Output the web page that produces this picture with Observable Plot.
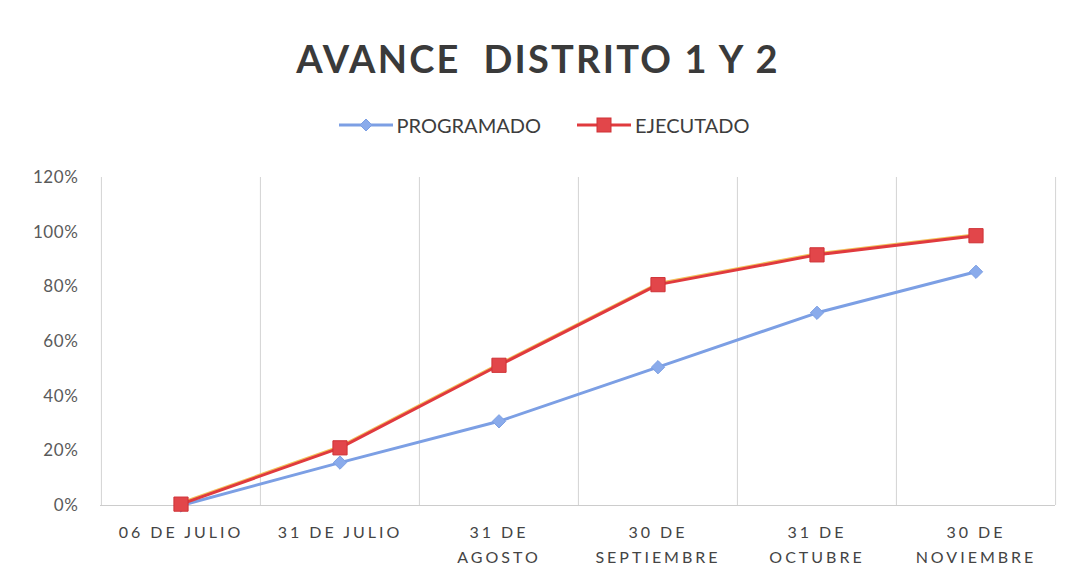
<!DOCTYPE html>
<html>
<head>
<meta charset="utf-8">
<script src="https://cdn.jsdelivr.net/npm/d3@7"></script>
<script src="https://cdn.jsdelivr.net/npm/@observablehq/plot@0.6"></script>
<style>
  html, body { margin: 0; padding: 0; background: #fff; }
  #wrap { position: relative; width: 1076px; height: 579px; overflow: hidden; background: #fff; font-family: Lato, "Open Sans", sans-serif; }
  #title { position: absolute; left: 0; width: 1076px; top: 37px; text-align: center; font-size: 38px; font-weight: 700; letter-spacing: 2.2px; color: #3a3a3a; white-space: pre; line-height: 42px; }
  #legend { position: absolute; left: 6px; width: 1076px; top: 112px; display: flex; justify-content: center; align-items: center; font-size: 20px; color: #3d3d3d; line-height: 26px; }
  .item { display: flex; align-items: center; }
  .item svg { margin-right: 4px; }
  #chart { position: absolute; left: 0; top: 150px; }
  #chart svg g[aria-label="x-axis tick label"] text { letter-spacing: 3px; }
  #chart svg g[aria-label="y-axis tick label"] text { letter-spacing: 0.6px; }
</style>
</head>
<body>
<div id="wrap">
  <div id="title">AVANCE  DISTRITO 1 Y 2</div>
  <div id="legend"></div>
  <div id="chart"></div>
</div>
<script>
const categories = ["06 DE JULIO", "31 DE JULIO", "31 DE AGOSTO", "30 DE SEPTIEMBRE", "31 DE OCTUBRE", "30 DE NOVIEMBRE"];
const tickLabels = ["06 DE JULIO", "31 DE JULIO", "31 DE\nAGOSTO", "30 DE\nSEPTIEMBRE", "31 DE\nOCTUBRE", "30 DE\nNOVIEMBRE"];
const programado = [0, 0.157, 0.308, 0.506, 0.705, 0.855];
const ejecutado = [0.005, 0.211, 0.513, 0.808, 0.917, 0.987];
const yTicks = [0, 0.2, 0.4, 0.6, 0.8, 1.0, 1.2];
const seriesNames = ["PROGRAMADO", "EJECUTADO"];

const blue = "#7c9fe4";
const red = "#e03a3e";

const rows = [];
categories.forEach((c, i) => {
  rows.push({cat: c, value: programado[i], serie: seriesNames[0]});
  rows.push({cat: c, value: ejecutado[i], serie: seriesNames[1]});
});
const progRows = rows.filter(d => d.serie === seriesNames[0]);
const ejecRows = rows.filter(d => d.serie === seriesNames[1]);

const W = 1076, H = 429;
const mL = 100, mR = 21, mT = 27, mB = 74;
const bw = (W - mL - mR) / categories.length;
const labelOf = new Map(categories.map((c, i) => [c, tickLabels[i]]));

const plot = Plot.plot({
  width: W,
  height: H,
  marginLeft: mL,
  marginRight: mR,
  marginTop: mT,
  marginBottom: mB,
  style: {background: "transparent", fontFamily: "Lato, 'Open Sans', sans-serif", color: "#4a4a4a"},
  x: {type: "band", domain: categories, padding: 0},
  y: {domain: [0, 1.2]},
  marks: [
    Plot.ruleX(categories, {dx: -bw / 2, stroke: "#d4d4d4", strokeWidth: 1}),
    Plot.ruleX([categories[categories.length - 1]], {dx: bw / 2, stroke: "#d4d4d4", strokeWidth: 1}),
    Plot.ruleY([0], {stroke: "#cccccc", strokeWidth: 1}),
    Plot.axisY({ticks: yTicks, tickFormat: d3.format(".0%"), tickSize: 0, tickPadding: 22, fontSize: 17, label: null, fill: "#5a5a5a"}),
    Plot.axisX({tickSize: 0, tickPadding: 15, fontSize: 16, lineHeight: 1.55, label: null, tickFormat: d => labelOf.get(d), fill: "#444"}),
    Plot.line(progRows, {x: "cat", y: "value", stroke: blue, strokeWidth: 3}),
    Plot.dot(progRows, {x: "cat", y: "value", symbol: "diamond2", r: 6, fill: "#8aabeb", stroke: blue, strokeWidth: 1}),
    Plot.line(ejecRows, {x: "cat", y: "value", stroke: "#f2c15a", strokeWidth: 2, dy: -1.6}),
    Plot.line(ejecRows, {x: "cat", y: "value", stroke: red, strokeWidth: 3}),
    Plot.dot(ejecRows, {x: "cat", y: "value", symbol: "square", r: 8, fill: "#e2464a", stroke: "#cf3236", strokeWidth: 1})
  ]
});
document.getElementById("chart").appendChild(plot);

// Legend
const legend = document.getElementById("legend");
const legendSpec = [
  {name: seriesNames[0], color: blue, marker: "diamond"},
  {name: seriesNames[1], color: red, marker: "square"}
];
legendSpec.forEach((s, i) => {
  const item = document.createElement("div");
  item.className = "item";
  if (i > 0) item.style.marginLeft = "36px";
  const sw = d3.create("svg").attr("width", 54).attr("height", 20);
  sw.append("line").attr("x1", 0).attr("x2", 54).attr("y1", 10).attr("y2", 10).attr("stroke", s.color).attr("stroke-width", 3);
  if (s.marker === "diamond") {
    sw.append("path").attr("d", "M27,4 L33,10 L27,16 L21,10 Z").attr("fill", "#8aabeb").attr("stroke", s.color);
  } else {
    sw.append("rect").attr("x", 20).attr("y", 3).attr("width", 14).attr("height", 14).attr("fill", "#e2464a").attr("stroke", "#cf3236");
  }
  item.appendChild(sw.node());
  const t = document.createElement("span");
  t.textContent = s.name;
  item.appendChild(t);
  legend.appendChild(item);
});
</script>
</body>
</html>
